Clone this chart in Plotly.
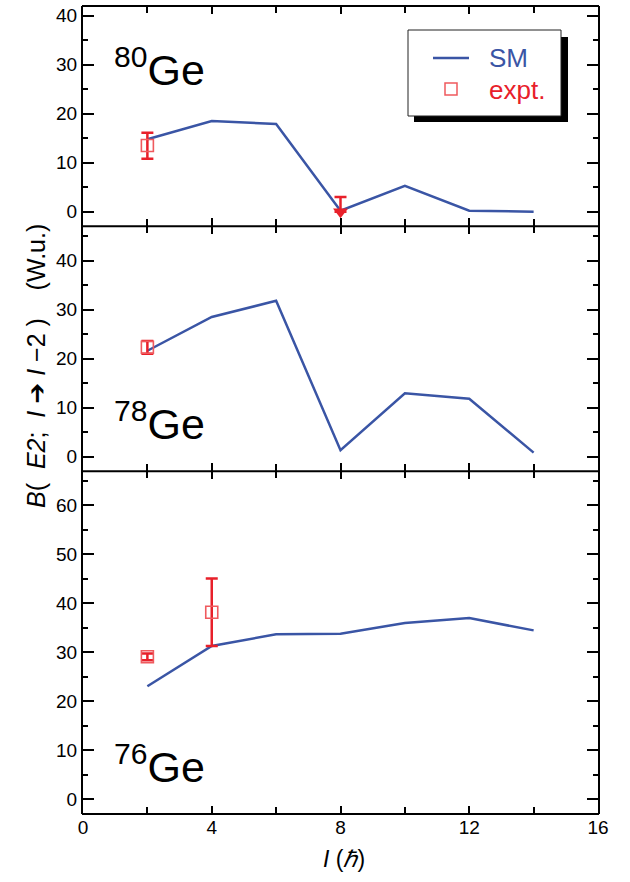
import plotly.graph_objects as go

# ---------------- data ----------------
spins = [2, 4, 6, 8, 10, 12, 14]
sm_80ge = [14.8, 18.5, 17.9, 0.2, 5.3, 0.2, 0.0]
sm_78ge = [21.6, 28.5, 31.8, 1.3, 12.9, 11.8, 0.8]
sm_76ge = [23.1, 31.3, 33.7, 33.8, 36.0, 37.0, 34.5]

expt_80ge_I = [2]
expt_80ge = [13.5]
expt_80ge_up = [2.6]
expt_80ge_dn = [2.7]
limit_80ge_I = [8]
limit_80ge = [0.0]
limit_80ge_up = [3.0]

expt_78ge_I = [2]
expt_78ge = [22.3]
expt_78ge_err = [1.3]

expt_76ge_I = [2, 4]
expt_76ge = [29.1, 38.2]
expt_76ge_err = [0.7, 6.9]

x_ticks = [0, 4, 8, 12, 16]
x_minor = [2, 6, 10, 14]
panel_ranges = {"80": [-3, 42], "78": [-3, 47], "76": [-3, 67]}

# ---------------- style ----------------
BLUE = "#3a55a5"
RED = "#e8202a"
RED_LIGHT = "#ef5a5e"
FONT = "Liberation Sans, Arial, Helvetica, sans-serif"
NB = "\u00a0"

W, H = 630, 882
L, R, T, B = 83, 32, 6, 68
PW, PH = W - L - R, H - T - B

def px(xp):
    return (xp - L) / PW

def py(yp):
    return (H - B - yp) / PH

fig = go.Figure()

panels = [("80", sm_80ge, "x3", "y3"), ("78", sm_78ge, "x2", "y2"), ("76", sm_76ge, "x", "y")]
for name, sm, xa, ya in panels:
    fig.add_trace(go.Scatter(x=spins, y=sm, mode="lines", line=dict(color=BLUE, width=2.5),
                             xaxis=xa, yaxis=ya, showlegend=False, name="SM"))

def expt_trace(xs, ys, up, dn, xa, ya):
    return go.Scatter(x=xs, y=ys, mode="markers",
                      marker=dict(symbol="square-open", size=12, color=RED_LIGHT, line=dict(width=1.6, color=RED_LIGHT)),
                      error_y=dict(type="data", array=up, arrayminus=dn, color=RED, thickness=2.5, width=6),
                      xaxis=xa, yaxis=ya, showlegend=False, name="expt.")

fig.add_trace(expt_trace(expt_80ge_I, expt_80ge, expt_80ge_up, expt_80ge_dn, "x3", "y3"))
fig.add_trace(go.Scatter(x=limit_80ge_I, y=limit_80ge, mode="markers",
                         marker=dict(symbol="triangle-down", size=13, color=RED, line=dict(width=0)),
                         error_y=dict(type="data", array=limit_80ge_up, arrayminus=[0] * len(limit_80ge),
                                      color=RED, thickness=2.5, width=6),
                         xaxis="x3", yaxis="y3", showlegend=False))
fig.add_trace(expt_trace(expt_78ge_I, expt_78ge, expt_78ge_err, expt_78ge_err, "x2", "y2"))
fig.add_trace(expt_trace(expt_76ge_I, expt_76ge, expt_76ge_err, expt_76ge_err, "x", "y"))

tot = sum(r[1] - r[0] for r in panel_ranges.values())
h76 = (panel_ranges["76"][1] - panel_ranges["76"][0]) / tot
h78 = (panel_ranges["78"][1] - panel_ranges["78"][0]) / tot

xcommon = dict(range=[0, 16], tickvals=x_ticks, ticks="inside", ticklen=8, tickwidth=1.5,
               tickcolor="black", showline=False, mirror="ticks",
               showgrid=False, zeroline=False,
               minor=dict(tickvals=x_minor, ticks="inside", ticklen=7, tickwidth=1.5, tickcolor="black",
                          showgrid=False),
               tickfont=dict(family=FONT, size=19, color="black"))
ycommon = dict(dtick=10, tick0=0, ticks="inside", ticklen=11, tickwidth=1.5, tickcolor="black",
               showline=True, linecolor="black", linewidth=2, mirror="ticks",
               showgrid=False, zeroline=False,
               minor=dict(dtick=5, ticks="inside", ticklen=5, tickwidth=1.5, tickcolor="black", showgrid=False),
               tickfont=dict(family=FONT, size=19, color="black"))

fig.update_layout(
    width=W, height=H, margin=dict(l=L, r=R, t=T, b=B),
    paper_bgcolor="white", plot_bgcolor="white",
    xaxis=dict(xcommon, anchor="y", showticklabels=True),
    xaxis2=dict(xcommon, anchor="y2", matches="x", showticklabels=False),
    xaxis3=dict(xcommon, anchor="y3", matches="x", showticklabels=False),
    yaxis=dict(ycommon, domain=[0, h76], range=panel_ranges["76"], anchor="x"),
    yaxis2=dict(ycommon, domain=[h76, h76 + h78], range=panel_ranges["78"], anchor="x2"),
    yaxis3=dict(ycommon, domain=[h76 + h78, 1], range=panel_ranges["80"], anchor="x3"),
    showlegend=False,
)

# horizontal frame lines (single line at each panel boundary)
for yb in [0, h76, h76 + h78, 1]:
    fig.add_shape(type="line", xref="paper", yref="paper", x0=px(82), x1=px(599), y0=yb, y1=yb,
                  line=dict(color="black", width=2), layer="above")

# isotope labels
labels = [("80", 86), ("78", 440), ("76", 783)]
for mass, base in labels:
    fig.add_annotation(text=f"<sup>{mass}</sup>Ge", xref="paper", yref="paper",
                       x=px(112), y=py(base + 10), xanchor="left", yanchor="bottom",
                       showarrow=False, font=dict(family=FONT, size=43, color="black"))

# axis titles
fig.add_annotation(text=f"<i>I</i>{NB}(<i>ℏ</i>)", xref="paper", yref="paper", x=px(344), y=py(859),
                   xanchor="center", yanchor="middle", showarrow=False,
                   font=dict(family=FONT, size=23, color="black"))
ytitle = (f"<i>B</i>({NB}{NB}<i>E2</i>;{NB}{NB}<i>I</i>{NB}<span style='font-family:DejaVu Sans'>➔</span>"
          f"{NB}<i>I</i>{NB}−2{NB}){NB * 4}(W.u.)")
fig.add_annotation(text=ytitle, xref="paper", yref="paper",
                   x=px(37), y=py(366), xanchor="center", yanchor="middle", textangle=-90,
                   showarrow=False, font=dict(family=FONT, size=25, color="black"))

# legend (drawn manually to reproduce the drop shadow)
fig.add_shape(type="rect", xref="paper", yref="paper", x0=px(414), x1=px(568), y0=py(122), y1=py(37),
              fillcolor="black", line=dict(width=0))
fig.add_shape(type="rect", xref="paper", yref="paper", x0=px(408), x1=px(561), y0=py(116), y1=py(30),
              fillcolor="white", line=dict(color="#222222", width=1))
fig.add_shape(type="line", xref="paper", yref="paper", x0=px(433), x1=px(469), y0=py(58), y1=py(58),
              line=dict(color=BLUE, width=2.5))
fig.add_shape(type="rect", xref="paper", yref="paper", x0=px(445), x1=px(457), y0=py(95), y1=py(83),
              line=dict(color=RED_LIGHT, width=1.5))
fig.add_annotation(text="SM", xref="paper", yref="paper", x=px(487), y=py(58), xanchor="left",
                   yanchor="middle", showarrow=False, font=dict(family=FONT, size=26, color=BLUE))
fig.add_annotation(text="expt.", xref="paper", yref="paper", x=px(487), y=py(90), xanchor="left",
                   yanchor="middle", showarrow=False, font=dict(family=FONT, size=26, color=RED))

fig.write_html("out.html")
